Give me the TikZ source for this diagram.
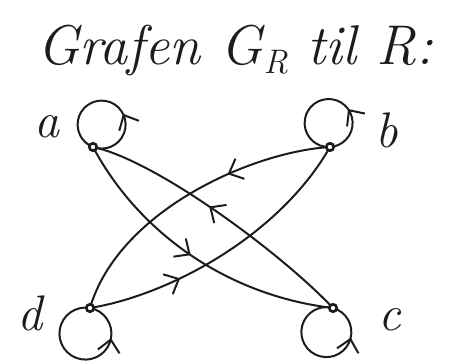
\documentclass[tikz,border=0pt]{standalone}
\usetikzlibrary{arrows.meta,decorations.markings,backgrounds}
\definecolor{inkc}{HTML}{1C1C1C}
\begin{document}
\begin{tikzpicture}[x=1pt,y=-1pt,
  ink/.style={draw=inkc, line width=2pt, line cap=round, line join=round},
  vdot/.style={circle, draw=inkc, fill=white, line width=2.6pt, inner sep=0pt, minimum size=7.5pt},
  lbl/.style={font=\fontsize{50}{60}\selectfont\itshape, text=inkc, inner sep=0pt},
  ttl/.style={font=\fontsize{56}{66}\selectfont\itshape, text=inkc, inner sep=0pt},
  midarrow/.style={postaction={decorate}, decoration={markings,
     mark=at position #1 with {\arrow{Straight Barb[length=12pt,width=22pt]}}}}]
\useasboundingbox (0,0) rectangle (453,361);

% title
\node[ttl, anchor=base west] (title) at (37,65)
  {Grafen G\kern1pt\raisebox{-9pt}{\fontsize{34}{40}\selectfont R} til R:};

% vertices
\node[vdot] (a) at (93,147) {};
\node[vdot] (b) at (330,147) {};
\node[vdot] (c) at (333,308) {};
\node[vdot] (d) at (90,308) {};

% labels
\node[lbl, anchor=base] (la) at (47,137) {a};
\node[lbl, anchor=base] (lb) at (387,147) {b};
\node[lbl, anchor=base] (lc) at (390,330) {c};
\node[lbl, anchor=base] (ld) at (30,330) {d};

\begin{scope}[on background layer]
% edges
\draw[ink, midarrow=0.49] (a.center) .. controls (140,235) and (230,296) .. (c.center);
\draw[ink, midarrow=0.55] (c.center) .. controls (280,252) and (155,160) .. (a.center);
\draw[ink, midarrow=0.35] (b.center) .. controls (250,152) and (118,212) .. (d.center);
\draw[ink, midarrow=0.32] (d.center) .. controls (170,295) and (280,235) .. (b.center);
% loops
\draw[ink, midarrow=0.383] (a.center) arc[start angle=111, end angle=-249, radius=24];
\draw[ink, midarrow=0.34] (b.center) arc[start angle=86.7, end angle=-273.3, radius=24];
\draw[ink, midarrow=0.75] (d.center) arc[start angle=-79.9, end angle=-439.9, radius=26];
\draw[ink, midarrow=0.757] (c.center) arc[start angle=-74.6, end angle=-434.6, radius=25];
\end{scope}
\end{tikzpicture}
\end{document}
